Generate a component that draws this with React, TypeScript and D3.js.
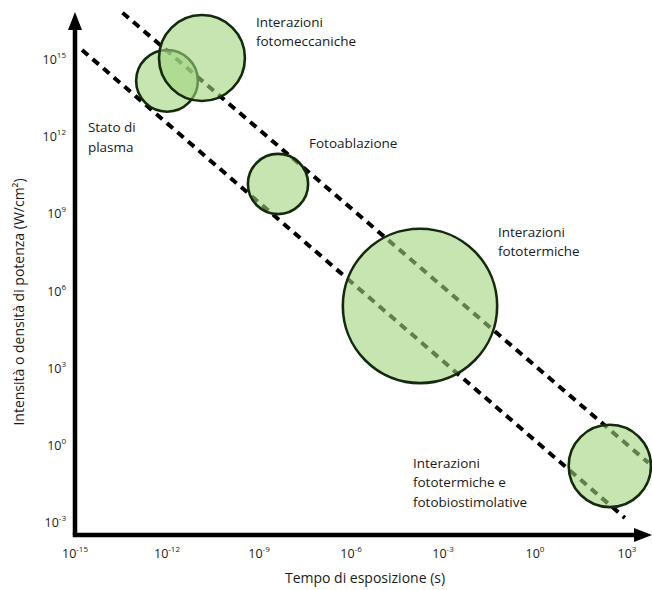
import React from "react";
import * as d3 from "d3";

// exponents (log10) for the axes
const xTickExps = [-15, -12, -9, -6, -3, 0, 3];
const yTickExps = [-3, 0, 3, 6, 9, 12, 15];

// regimes: centre (log10 time s, log10 intensity W/cm²), radius in decades of intensity
const regimeNames = [
  "Stato di plasma",
  "Interazioni fotomeccaniche",
  "Fotoablazione",
  "Interazioni fototermiche",
  "Interazioni fototermiche e fotobiostimolative",
];
const regimeLogT = [-12.0, -10.86, -8.38, -3.75, 2.44];
const regimeLogI = [14.15, 15.04, 10.14, 5.4, -0.82];
const regimeRadius = [1.2, 1.67, 1.17, 3.0, 1.6];

// label text (lines) and anchor (log10 time, log10 intensity)
const labelLines = [
  ["Stato di", "plasma"],
  ["Interazioni", "fotomeccaniche"],
  ["Fotoablazione"],
  ["Interazioni", "fototermiche"],
  ["Interazioni", "fototermiche e", "fotobiostimolative"],
];
const labelLogT = [-14.58, -9.1, -7.37, -1.21, -3.98];
const labelLogI = [12.16, 16.25, 11.54, 8.08, -0.9];

// dashed boundary lines: [start, end] in (log10 t, log10 I)
const upperLine = [
  [-13.45, 16.8],
  [3.7, -0.7],
];
const lowerLine = [
  [-14.77, 15.35],
  [2.93, -2.84],
];

const xTitle = "Tempo di esposizione (s)";
const yTitle = "Intensità o densità di potenza (W/cm²)";

const W = 652;
const H = 590;
const FONT = "'Open Sans', 'DejaVu Sans', sans-serif";

export default function App() {
  const x = d3.scaleLinear().domain([-15, 3]).range([75, 627]);
  const y = d3.scaleLinear().domain([-3, 15]).range([522, 59]);
  const ry = (d: number) => y(0) - y(d);

  const axisX0 = 75;
  const axisY0 = 535;
  const line = d3.line<number[]>().x((d) => x(d[0])).y((d) => y(d[1]));

  const sup = (e: number) => (e < 0 ? "-" + Math.abs(e) : String(e));

  return (
    <svg
      width={W}
      height={H}
      style={{ position: "absolute", left: 0, top: 0, background: "#fff" }}
      fontFamily={FONT}
    >
      {/* dashed lines */}
      {[upperLine, lowerLine].map((l, i) => (
        <path
          key={"l" + i}
          d={line(l) || ""}
          fill="none"
          stroke="#000"
          strokeWidth={4}
          strokeDasharray="8 6"
        />
      ))}
      {/* regime circles */}
      {regimeNames.map((n, i) => (
        <circle
          key={n}
          cx={x(regimeLogT[i])}
          cy={y(regimeLogI[i])}
          r={ry(regimeRadius[i])}
          fill="rgb(160,212,125)"
          fillOpacity={0.6}
          stroke="#142a0e"
          strokeWidth={2.6}
        />
      ))}
      {/* labels */}
      {labelLines.map((lines, i) => (
        <text
          key={"t" + i}
          x={x(labelLogT[i])}
          y={y(labelLogI[i])}
          fontSize={13.5}
          fill="#1a1a1a"
        >
          {lines.map((s, j) => (
            <tspan key={j} x={x(labelLogT[i])} dy={j === 0 ? 0 : 19.5}>
              {s}
            </tspan>
          ))}
        </text>
      ))}
      {/* axes */}
      <line x1={axisX0} y1={axisY0} x2={axisX0} y2={24} stroke="#000" strokeWidth={4.5} />
      <path d={`M${axisX0},12 L${axisX0 - 7},30 L${axisX0 + 7},30 Z`} fill="#000" />
      <line x1={axisX0 - 2.25} y1={axisY0} x2={640} y2={axisY0} stroke="#000" strokeWidth={4.5} />
      <path d={`M652,${axisY0} L634,${axisY0 - 7} L634,${axisY0 + 7} Z`} fill="#000" />
      {/* y ticks */}
      {yTickExps.map((e) => (
        <text key={"y" + e} x={66} y={y(e) + 5} textAnchor="end" fontSize={12.5} fill="#1a1a1a">
          10
          <tspan dy={-6} fontSize={8}>
            {sup(e)}
          </tspan>
        </text>
      ))}
      {/* x ticks */}
      {xTickExps.map((e) => (
        <text key={"x" + e} x={x(e)} y={558} textAnchor="middle" fontSize={12.5} fill="#1a1a1a">
          10
          <tspan dy={-6} fontSize={8}>
            {sup(e)}
          </tspan>
        </text>
      ))}
      <text x={365} y={583} textAnchor="middle" fontSize={14} fill="#1a1a1a">
        {xTitle}
      </text>
      <text
        transform={`translate(24,302) rotate(-90)`}
        textAnchor="middle"
        fontSize={14}
        fill="#1a1a1a"
      >
        {yTitle}
      </text>
    </svg>
  );
}
